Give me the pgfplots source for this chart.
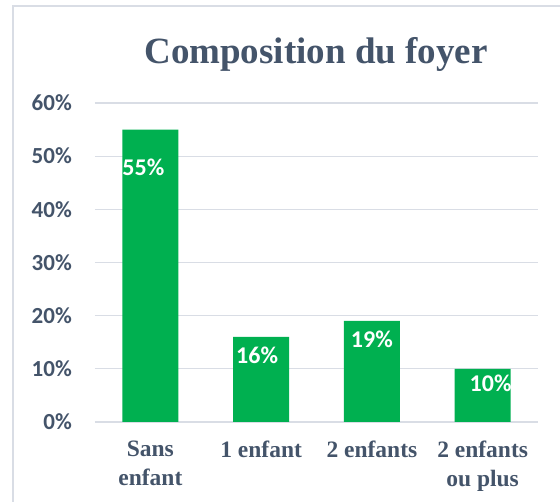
\documentclass[border=0pt]{standalone}
\usepackage{pgfplots}
\pgfplotsset{compat=1.18}
\usepackage{fontspec}
\setmainfont{Liberation Serif}
\newfontfamily\calibri{Carlito}
\definecolor{slate}{RGB}{68,84,106}
\definecolor{barg}{RGB}{0,176,80}
\definecolor{gridc}{RGB}{217,221,229}
\definecolor{framec}{RGB}{217,221,229}
\begin{document}
\begin{tikzpicture}
\useasboundingbox (0,0) rectangle (560pt,502pt);
\fill[white] (0,0) rectangle (560pt,502pt);
\draw[color=framec, line width=1.2pt] (13pt,-2pt) -- (13pt,496pt) -- (562pt,496pt);
\node[font=\fontsize{37}{40}\selectfont\bfseries, text=slate, anchor=base, inner sep=0pt] at (316pt,438.5pt) {Composition du foyer};
\begin{axis}[
  at={(95pt,80pt)}, anchor=south west,
  scale only axis, width=443pt, height=319pt,
  xmin=-0.5, xmax=3.5, ymin=0, ymax=60,
  axis line style={draw=none},
  tick style={draw=none},
  ymajorgrids, major grid style={color=gridc, line width=1.2pt},
  ytick={0,10,20,30,40,50,60},
  yticklabels={0\%,10\%,20\%,30\%,40\%,50\%,60\%},
  yticklabel style={font=\calibri\bfseries\fontsize{23}{23}\selectfont, text=slate, anchor=east, inner sep=0pt, xshift=-23pt},
  xtick={0,1,2,3},
  xticklabels={{Sans\\enfant},{1 enfant},{2 enfants},{2 enfants\\ou plus}},
  xticklabel style={font=\bfseries\fontsize{23.5}{29}\selectfont, text=slate, anchor=north, inner sep=0pt, yshift=-19pt, align=center},
  clip=false,
]
\addplot[ybar, bar width=56pt, fill=barg, draw=none,
  visualization depends on={\thisrow{dx} \as \dx},
  visualization depends on={\thisrow{dy} \as \dy},
  nodes near coords={\pgfmathprintnumber[assume math mode=true]{\pgfplotspointmeta}\%},
  point meta=y,
  every node near coord/.append style={anchor=center, inner sep=0pt, text=white, font=\calibri\bfseries\fontsize{24}{24}\selectfont, xshift=\dx pt, yshift=\dy pt},
] table {
x y dx dy
0 55 -7 -38
1 16 -4 -18
2 19 0 -18
3 10 8 -14
};
\end{axis}
\end{tikzpicture}
\end{document}
